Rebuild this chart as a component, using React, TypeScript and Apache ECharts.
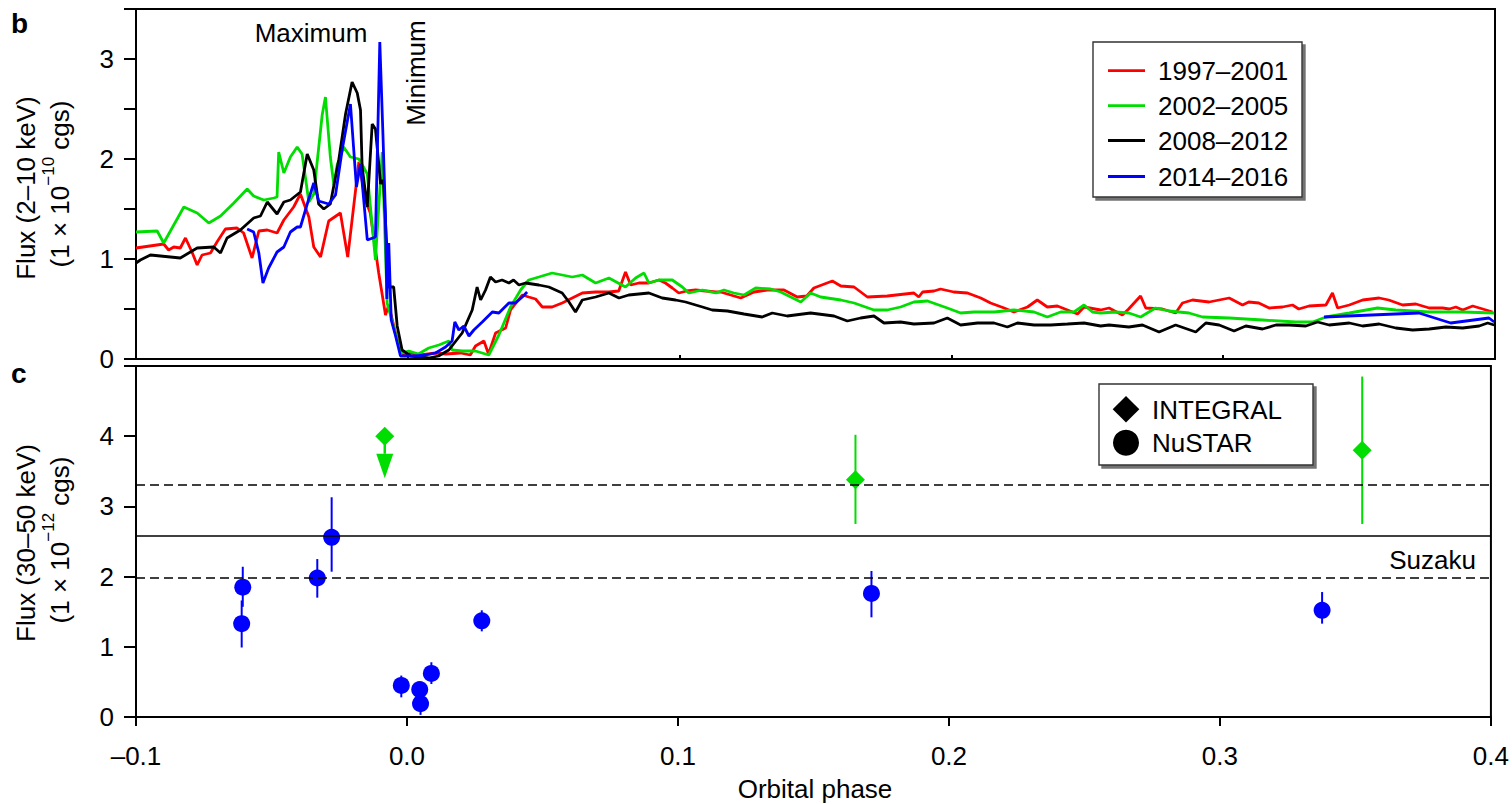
import React, { useEffect, useRef } from "react";
import * as echarts from "echarts";

// ---------- Panel b: 2–10 keV light curves (orbital phase, flux in 1e-10 cgs) ----------
const RED_1997_2001: [number, number][] = [
  [-0.1, 1.11], [-0.0898, 1.15], [-0.088, 1.09], [-0.0861, 1.12], [-0.0837, 1.11], [-0.0818, 1.21],
  [-0.0794, 1.07], [-0.0775, 0.94], [-0.0757, 1.04], [-0.0726, 1.06], [-0.0702, 1.17], [-0.0671, 1.3],
  [-0.0628, 1.31], [-0.0604, 1.26], [-0.0573, 1.01], [-0.0548, 1.28], [-0.0517, 1.29], [-0.0481, 1.26],
  [-0.0456, 1.39], [-0.042, 1.52], [-0.0395, 1.65], [-0.0364, 1.42], [-0.0346, 1.12], [-0.0321, 1.02],
  [-0.0291, 1.38], [-0.0248, 1.46], [-0.0221, 1.02], [-0.018, 1.97], [-0.0156, 1.59], [-0.0138, 1.46],
  [-0.0107, 0.86], [-0.0082, 0.44], [-0.007, 0.54], [-0.0039, 0.19], [-0.0015, 0.03], [0.001, 0.06],
  [0.0047, 0.04], [0.0102, 0.06], [0.0139, 0.05], [0.0194, 0.06], [0.023, 0.04], [0.0249, 0.13],
  [0.028, 0.18], [0.0297, 0.05], [0.0323, 0.26], [0.036, 0.31], [0.0378, 0.49], [0.0421, 0.64],
  [0.0445, 0.62], [0.047, 0.6], [0.0495, 0.52], [0.0531, 0.52], [0.0568, 0.56], [0.0605, 0.61],
  [0.0642, 0.66], [0.0691, 0.67], [0.074, 0.67], [0.0776, 0.68], [0.0801, 0.87], [0.082, 0.74],
  [0.085, 0.76], [0.0886, 0.76], [0.0924, 0.79], [0.0948, 0.76], [0.0973, 0.71], [0.0997, 0.66],
  [0.1026, 0.68], [0.1059, 0.69], [0.1133, 0.67], [0.1151, 0.67], [0.1225, 0.61], [0.1274, 0.67],
  [0.1323, 0.69], [0.1384, 0.69], [0.1433, 0.62], [0.1468, 0.63], [0.1494, 0.71], [0.1562, 0.78],
  [0.1593, 0.73], [0.1642, 0.72], [0.1691, 0.62], [0.1764, 0.63], [0.1862, 0.66], [0.188, 0.62],
  [0.1894, 0.67], [0.1936, 0.68], [0.196, 0.7], [0.2009, 0.67], [0.2059, 0.66], [0.2108, 0.61],
  [0.2144, 0.56], [0.2194, 0.51], [0.223, 0.47], [0.228, 0.52], [0.2316, 0.59], [0.2353, 0.52],
  [0.239, 0.53], [0.2427, 0.49], [0.2464, 0.45], [0.2488, 0.52], [0.2549, 0.49], [0.258, 0.51],
  [0.2629, 0.44], [0.2652, 0.5], [0.2696, 0.63], [0.2715, 0.51], [0.2776, 0.5], [0.2825, 0.46],
  [0.285, 0.56], [0.2887, 0.59], [0.2948, 0.57], [0.3022, 0.61], [0.3071, 0.54], [0.3094, 0.57],
  [0.3131, 0.56], [0.3169, 0.51], [0.3218, 0.52], [0.3255, 0.54], [0.3278, 0.5], [0.3316, 0.53],
  [0.3378, 0.54], [0.3402, 0.66], [0.3421, 0.51], [0.3464, 0.54], [0.3513, 0.59], [0.3574, 0.61],
  [0.3609, 0.59], [0.366, 0.54], [0.3709, 0.55], [0.3758, 0.51], [0.3807, 0.51], [0.3832, 0.5],
  [0.3856, 0.52], [0.3881, 0.49], [0.3918, 0.53], [0.3955, 0.5], [0.3991, 0.47],
];

const GREEN_2002_2005: [number, number][] = [
  [-0.1, 1.27], [-0.0922, 1.28], [-0.0898, 1.16], [-0.0824, 1.52], [-0.0775, 1.46], [-0.0732, 1.36],
  [-0.0689, 1.43], [-0.064, 1.56], [-0.0591, 1.7], [-0.0567, 1.63], [-0.053, 1.59], [-0.0493, 1.61],
  [-0.0481, 1.62], [-0.0475, 2.07], [-0.0456, 1.86], [-0.0432, 2.02], [-0.0407, 2.12], [-0.0389, 2.05],
  [-0.0364, 1.57], [-0.0346, 1.65], [-0.0315, 2.44], [-0.0303, 2.62], [-0.0285, 2.02], [-0.0272, 1.74],
  [-0.026, 1.94], [-0.0236, 2.12], [-0.0211, 2.02], [-0.018, 2.0], [-0.0149, 1.85], [-0.0119, 0.99],
  [-0.0113, 1.26], [-0.0094, 2.07], [-0.0076, 0.56], [-0.0039, 0.19], [-0.0021, 0.06], [0.0004, 0.08],
  [0.0039, 0.05], [0.0077, 0.11], [0.0114, 0.14], [0.0151, 0.18], [0.0163, 0.09], [0.02, 0.08],
  [0.0249, 0.08], [0.0298, 0.04], [0.0335, 0.24], [0.0378, 0.52], [0.0415, 0.69], [0.0445, 0.79],
  [0.0482, 0.82], [0.0531, 0.86], [0.0605, 0.82], [0.0642, 0.84], [0.0691, 0.76], [0.074, 0.81],
  [0.0801, 0.72], [0.0838, 0.81], [0.0869, 0.86], [0.0887, 0.76], [0.0924, 0.79], [0.0973, 0.79],
  [0.101, 0.72], [0.1034, 0.66], [0.1084, 0.69], [0.1133, 0.66], [0.1163, 0.69], [0.12, 0.66],
  [0.1237, 0.64], [0.128, 0.71], [0.1335, 0.7], [0.1372, 0.67], [0.1446, 0.57], [0.1482, 0.66],
  [0.1519, 0.62], [0.1593, 0.59], [0.1642, 0.56], [0.1715, 0.49], [0.1764, 0.49], [0.1813, 0.52],
  [0.1862, 0.57], [0.1912, 0.58], [0.1985, 0.51], [0.2034, 0.46], [0.2083, 0.47], [0.2157, 0.47],
  [0.223, 0.49], [0.2304, 0.47], [0.2353, 0.42], [0.2402, 0.47], [0.2451, 0.47], [0.2488, 0.54],
  [0.2519, 0.47], [0.2549, 0.46], [0.2604, 0.47], [0.2653, 0.46], [0.2696, 0.42], [0.2751, 0.51],
  [0.28, 0.48], [0.2874, 0.46], [0.2924, 0.42], [0.3022, 0.41], [0.3145, 0.39], [0.3267, 0.37],
  [0.3329, 0.37], [0.3378, 0.42], [0.3464, 0.46], [0.3568, 0.51], [0.3635, 0.49], [0.3758, 0.47],
  [0.3881, 0.47], [0.3997, 0.46],
];

const BLACK_2008_2012: [number, number][] = [
  [-0.1, 0.96], [-0.0984, 0.99], [-0.0947, 1.04], [-0.091, 1.03], [-0.0837, 1.01], [-0.0775, 1.11],
  [-0.0714, 1.12], [-0.0689, 1.06], [-0.0665, 1.21], [-0.0616, 1.29], [-0.0567, 1.41], [-0.0542, 1.43],
  [-0.0517, 1.57], [-0.0481, 1.45], [-0.0456, 1.57], [-0.0432, 1.59], [-0.0395, 1.67], [-0.037, 2.05],
  [-0.0346, 1.89], [-0.0328, 1.55], [-0.0309, 1.5], [-0.0285, 1.55], [-0.0254, 1.99], [-0.0229, 2.45],
  [-0.0205, 2.77], [-0.0186, 2.66], [-0.0174, 2.49], [-0.0168, 1.92], [-0.0149, 1.52], [-0.0131, 2.35],
  [-0.0119, 2.3], [-0.01, 1.75], [-0.0094, 1.79], [-0.0089, 1.75], [-0.007, 0.72], [-0.0052, 0.72],
  [-0.0039, 0.33], [-0.0021, 0.09], [0.001, 0.03], [0.0077, 0.01], [0.0113, 0.03], [0.0151, 0.09],
  [0.02, 0.26], [0.0237, 0.49], [0.0255, 0.72], [0.0268, 0.59], [0.0286, 0.69], [0.0304, 0.82],
  [0.0323, 0.77], [0.0347, 0.79], [0.0372, 0.76], [0.0389, 0.79], [0.0409, 0.74], [0.0433, 0.76],
  [0.0482, 0.74], [0.0519, 0.72], [0.0568, 0.66], [0.0593, 0.57], [0.0617, 0.47], [0.0642, 0.59],
  [0.0691, 0.62], [0.074, 0.66], [0.0777, 0.61], [0.0813, 0.64], [0.0887, 0.66], [0.0936, 0.61],
  [0.0985, 0.59], [0.1022, 0.57], [0.1084, 0.52], [0.112, 0.49], [0.1176, 0.48], [0.1237, 0.45],
  [0.1304, 0.42], [0.1341, 0.46], [0.1396, 0.43], [0.1482, 0.46], [0.1568, 0.43], [0.1617, 0.38],
  [0.1666, 0.41], [0.1715, 0.43], [0.1752, 0.36], [0.1813, 0.37], [0.1862, 0.35], [0.1936, 0.36],
  [0.1985, 0.41], [0.2034, 0.34], [0.2096, 0.36], [0.2157, 0.36], [0.2206, 0.32], [0.2243, 0.36],
  [0.2304, 0.34], [0.2365, 0.34], [0.2427, 0.35], [0.2488, 0.36], [0.2549, 0.33], [0.258, 0.34],
  [0.2653, 0.32], [0.2703, 0.34], [0.2764, 0.27], [0.2825, 0.34], [0.2899, 0.27], [0.2936, 0.36],
  [0.2985, 0.34], [0.304, 0.28], [0.3083, 0.33], [0.3145, 0.3], [0.3194, 0.34], [0.3243, 0.34],
  [0.3304, 0.33], [0.3347, 0.37], [0.339, 0.34], [0.3464, 0.36], [0.3513, 0.33], [0.3574, 0.35],
  [0.3635, 0.31], [0.3697, 0.29], [0.3758, 0.3], [0.3819, 0.32], [0.3881, 0.31], [0.3942, 0.33],
  [0.3973, 0.36], [0.3997, 0.34],
];

const BLUE_2014_2016_EARLY: [number, number][] = [
  [-0.0591, 1.3], [-0.0567, 1.27], [-0.0548, 1.06], [-0.0533, 0.76], [-0.0512, 0.91], [-0.0481, 1.07],
  [-0.0456, 1.12], [-0.0432, 1.27], [-0.0407, 1.32], [-0.0395, 1.32], [-0.037, 1.55], [-0.0346, 1.76],
  [-0.0328, 1.58], [-0.0291, 1.55], [-0.0266, 1.64], [-0.0241, 2.1], [-0.0211, 2.55], [-0.0189, 1.72],
  [-0.0174, 1.95], [-0.0149, 1.19], [-0.0119, 1.22], [-0.0103, 3.17], [-0.0092, 2.29], [-0.0082, 1.42],
  [-0.0077, 0.6], [-0.007, 1.16], [-0.0061, 0.39], [-0.0045, 0.23], [-0.0027, 0.03], [-0.0008, 0.03],
  [0.0028, 0.03], [0.0065, 0.04], [0.0102, 0.06], [0.0139, 0.12], [0.0163, 0.18], [0.0173, 0.37],
  [0.0188, 0.29], [0.0206, 0.33], [0.0225, 0.23], [0.0243, 0.29], [0.0274, 0.37], [0.0311, 0.47],
  [0.0335, 0.46], [0.0372, 0.56], [0.0396, 0.56], [0.0421, 0.62], [0.0439, 0.67],
];
const BLUE_2014_2016_LATE: [number, number][] = [
  [0.3371, 0.42], [0.372, 0.46], [0.3837, 0.36], [0.3978, 0.41], [0.3997, 0.37],
];

const PERIOD_NAMES = ["1997–2001", "2002–2005", "2008–2012", "2014–2016"];
const PERIOD_COLORS = ["#ff0000", "#00dd00", "#000000", "#0000ff"];

// ---------- Panel c: 30–50 keV fluxes (phase, flux, low, high) in 1e-12 cgs ----------
const NUSTAR: [number, number, number, number][] = [
  [-0.061, 1.33, 0.99, 1.66],
  [-0.0606, 1.85, 1.57, 2.14],
  [-0.0331, 1.98, 1.7, 2.25],
  [-0.0278, 2.56, 2.07, 3.13],
  [-0.0021, 0.45, 0.28, 0.59],
  [0.0047, 0.39, 0.27, 0.5],
  [0.005, 0.19, 0.03, 0.3],
  [0.009, 0.62, 0.47, 0.78],
  [0.0276, 1.37, 1.22, 1.52],
  [0.1714, 1.76, 1.42, 2.08],
  [0.3377, 1.52, 1.33, 1.78],
];
const INTEGRAL: [number, number, number, number][] = [
  [0.1655, 3.38, 2.75, 4.02],
  [0.3525, 3.8, 2.75, 4.85],
];
// upper limit: phase, value, arrow-head base, arrow tip
const INTEGRAL_UPPER_LIMIT: [number, number, number, number][] = [[-0.0082, 4.0, 3.75, 3.4]];
const REFERENCE_LEVELS = [
  { value: 3.31, dashed: true },
  { value: 2.58, dashed: false },
  { value: 1.99, dashed: true },
];

const X_MIN = -0.1;
const X_MAX = 0.4;
const X_STEP = 0.1;

const FONT = "'Liberation Sans', Arial, Helvetica, sans-serif";
const BLUE = "#0000ff";
const GREEN = "#00dd00";

export default function App() {
  const ref = useRef<HTMLDivElement>(null);

  useEffect(() => {
    if (!ref.current) return;
    const chart = echarts.init(ref.current, undefined, { renderer: "svg" });

    const xFmt = (v: number) => (v < -1e-9 ? "–" + Math.abs(v).toFixed(1) : Math.abs(v).toFixed(1));
    const axisLine = { lineStyle: { color: "#000", width: 2 } };
    const tickStyle = { color: "#000", width: 2 };
    const labelStyle = { color: "#000", fontSize: 26, fontFamily: FONT };

    const errorBarSeries = (name: string, data: number[][], color: string) => ({
      type: "custom",
      name,
      xAxisIndex: 1,
      yAxisIndex: 1,
      data: data.map((d) => [d[0], d[2], d[3]]),
      encode: { x: 0, y: [1, 2] },
      renderItem: (params: any, api: any) => {
        const a = api.coord([api.value(0), api.value(1)]);
        const b = api.coord([api.value(0), api.value(2)]);
        return {
          type: "line",
          shape: { x1: a[0], y1: a[1], x2: b[0], y2: b[1] },
          style: { stroke: color, lineWidth: 2 },
        };
      },
      z: 3,
    });

    const lineSeries = (name: string, data: [number, number][], color: string) => ({
      type: "line",
      name,
      xAxisIndex: 0,
      yAxisIndex: 0,
      data,
      showSymbol: false,
      symbol: "none",
      lineStyle: { color, width: 2.8 },
      itemStyle: { color },
      z: 2,
    });

    const legendTop = 42;
    const legendRows = [70.7, 105.7, 140.5, 176.5];

    chart.setOption({
      animation: false,
      backgroundColor: "#fff",
      grid: [
        { left: 136, top: 9, width: 1359, height: 350, show: true, borderColor: "#000", borderWidth: 2, backgroundColor: "transparent" },
        { left: 136, top: 366, width: 1359, height: 351, show: true, borderColor: "#000", borderWidth: 2, backgroundColor: "transparent" },
      ],
      xAxis: [
        {
          gridIndex: 0, type: "value", min: X_MIN, max: X_MAX, interval: X_STEP,
          axisLine: { ...axisLine, onZero: false },
          axisTick: { inside: true, length: 4, lineStyle: tickStyle },
          axisLabel: { show: false },
          splitLine: { show: false },
        },
        {
          gridIndex: 1, type: "value", min: X_MIN, max: X_MAX, interval: X_STEP,
          axisLine: { ...axisLine, onZero: false },
          axisTick: { length: 9, lineStyle: tickStyle },
          axisLabel: { ...labelStyle, margin: 26, formatter: xFmt },
          splitLine: { show: false },
        },
      ],
      yAxis: [
        {
          gridIndex: 0, type: "value", min: 0, max: 3.5, interval: 0.5,
          axisLine: { ...axisLine, onZero: false },
          axisTick: { length: 12, lineStyle: tickStyle },
          axisLabel: {
            ...labelStyle, margin: 22,
            formatter: (v: number) => (Math.abs(v - Math.round(v)) < 1e-6 ? String(Math.round(v)) : ""),
          },
          splitLine: { show: false },
        },
        {
          gridIndex: 1, type: "value", min: 0, max: 5, interval: 1,
          axisLine: { ...axisLine, onZero: false },
          axisTick: { length: 12, lineStyle: tickStyle },
          axisLabel: { ...labelStyle, margin: 22, formatter: (v: number) => (v >= 5 ? "" : String(v)) },
          splitLine: { show: false },
        },
      ],
      series: [
        lineSeries(PERIOD_NAMES[0], RED_1997_2001, PERIOD_COLORS[0]),
        lineSeries(PERIOD_NAMES[1], GREEN_2002_2005, PERIOD_COLORS[1]),
        lineSeries(PERIOD_NAMES[2], BLACK_2008_2012, PERIOD_COLORS[2]),
        lineSeries(PERIOD_NAMES[3], BLUE_2014_2016_EARLY, PERIOD_COLORS[3]),
        lineSeries(PERIOD_NAMES[3], BLUE_2014_2016_LATE, PERIOD_COLORS[3]),
        {
          type: "line",
          name: "reference",
          xAxisIndex: 1,
          yAxisIndex: 1,
          data: [],
          markLine: {
            silent: true,
            symbol: ["none", "none"],
            label: { show: false },
            data: REFERENCE_LEVELS.map((r) => ({
              yAxis: r.value,
              lineStyle: { color: "#000", width: 1.6, type: r.dashed ? [9, 5] : "solid" },
            })),
          },
        },
        errorBarSeries("NuSTAR error", NUSTAR, BLUE),
        errorBarSeries("INTEGRAL error", INTEGRAL, GREEN),
        {
          type: "custom",
          name: "INTEGRAL upper limit",
          xAxisIndex: 1,
          yAxisIndex: 1,
          data: INTEGRAL_UPPER_LIMIT,
          encode: { x: 0, y: [1, 3] },
          renderItem: (params: any, api: any) => {
            const top = api.coord([api.value(0), api.value(1)]);
            const base = api.coord([api.value(0), api.value(2)]);
            const tip = api.coord([api.value(0), api.value(3)]);
            return {
              type: "group",
              children: [
                { type: "line", shape: { x1: top[0], y1: top[1], x2: base[0], y2: base[1] }, style: { stroke: GREEN, lineWidth: 2.5 } },
                { type: "polygon", shape: { points: [[base[0] - 8.5, base[1]], [base[0] + 8.5, base[1]], [tip[0], tip[1]]] }, style: { fill: GREEN } },
              ],
            };
          },
          z: 3,
        },
        {
          type: "scatter",
          name: "NuSTAR",
          xAxisIndex: 1,
          yAxisIndex: 1,
          data: NUSTAR.map((d) => [d[0], d[1]]),
          symbol: "circle",
          symbolSize: 17,
          itemStyle: { color: BLUE, opacity: 1 },
          z: 4,
        },
        {
          type: "scatter",
          name: "INTEGRAL",
          xAxisIndex: 1,
          yAxisIndex: 1,
          data: [...INTEGRAL.map((d) => [d[0], d[1]]), ...INTEGRAL_UPPER_LIMIT.map((d) => [d[0], d[1]])],
          symbol: "diamond",
          symbolSize: 19,
          itemStyle: { color: GREEN, opacity: 1 },
          z: 4,
        },
      ],
      graphic: [
        // panel letters
        { type: "text", x: 11, y: 23, style: { text: "b", font: `bold 28px ${FONT}`, fill: "#000", verticalAlign: "middle" } },
        { type: "text", x: 11, y: 373, style: { text: "c", font: `bold 28px ${FONT}`, fill: "#000", verticalAlign: "middle" } },
        // y-axis titles
        { type: "text", x: 26, y: 188, rotation: Math.PI / 2, style: { text: "Flux (2–10 keV)", font: `26px ${FONT}`, fill: "#000", align: "center", verticalAlign: "middle" } },
        {
          type: "text", x: 60, y: 184, rotation: Math.PI / 2,
          style: {
            text: "(1 × 10{sup|−10} cgs)", font: `26px ${FONT}`, fill: "#000", align: "center", verticalAlign: "middle",
            rich: { sup: { fontSize: 17, fontFamily: FONT, fill: "#000", padding: [0, 0, 24, 0] } },
          },
        },
        { type: "text", x: 26, y: 543, rotation: Math.PI / 2, style: { text: "Flux (30–50 keV)", font: `26px ${FONT}`, fill: "#000", align: "center", verticalAlign: "middle" } },
        {
          type: "text", x: 60, y: 540, rotation: Math.PI / 2,
          style: {
            text: "(1 × 10{sup|−12} cgs)", font: `26px ${FONT}`, fill: "#000", align: "center", verticalAlign: "middle",
            rich: { sup: { fontSize: 17, fontFamily: FONT, fill: "#000", padding: [0, 0, 24, 0] } },
          },
        },
        // x-axis title
        { type: "text", x: 815, y: 789, style: { text: "Orbital phase", font: `26px ${FONT}`, fill: "#000", align: "center", verticalAlign: "middle" } },
        // annotations
        { type: "text", x: 311, y: 33, style: { text: "Maximum", font: `26px ${FONT}`, fill: "#000", align: "center", verticalAlign: "middle" } },
        { type: "text", x: 416, y: 73, rotation: Math.PI / 2, style: { text: "Minimum", font: `26px ${FONT}`, fill: "#000", align: "center", verticalAlign: "middle" } },
        { type: "text", x: 1476, y: 560, style: { text: "Suzaku", font: `26px ${FONT}`, fill: "#000", align: "right", verticalAlign: "middle" } },
        // legend b
        {
          type: "rect", shape: { x: 1093, y: legendTop, width: 209, height: 155 },
          style: { fill: "#fff", stroke: "#333", lineWidth: 1.4, shadowColor: "rgba(0,0,0,0.55)", shadowOffsetX: 3, shadowOffsetY: 3, shadowBlur: 1 },
          z: 10,
        },
        ...PERIOD_NAMES.flatMap((name, i) => [
          { type: "line", shape: { x1: 1108, y1: legendRows[i], x2: 1145, y2: legendRows[i] }, style: { stroke: PERIOD_COLORS[i], lineWidth: 2.8 }, z: 11 },
          { type: "text", x: 1158, y: legendRows[i], style: { text: name, font: `26px ${FONT}`, fill: "#000", verticalAlign: "middle" }, z: 11 },
        ]),
        // legend c
        {
          type: "rect", shape: { x: 1099, y: 384, width: 214, height: 81 },
          style: { fill: "#fff", stroke: "#333", lineWidth: 1.4, shadowColor: "rgba(0,0,0,0.55)", shadowOffsetX: 3, shadowOffsetY: 3, shadowBlur: 1 },
          z: 10,
        },
        { type: "polygon", shape: { points: [[1126, 396], [1139.3, 409.3], [1126, 422.6], [1112.7, 409.3]] }, style: { fill: "#000" }, z: 11 },
        { type: "circle", shape: { cx: 1126, cy: 442.7, r: 13 }, style: { fill: "#000" }, z: 11 },
        { type: "text", x: 1152, y: 409.5, style: { text: "INTEGRAL", font: `26px ${FONT}`, fill: "#000", verticalAlign: "middle" }, z: 11 },
        { type: "text", x: 1152, y: 443, style: { text: "NuSTAR", font: `26px ${FONT}`, fill: "#000", verticalAlign: "middle" }, z: 11 },
      ],
    });

    return () => chart.dispose();
  }, []);

  return <div ref={ref} style={{ position: "fixed", left: 0, top: 0, width: 1512, height: 804, background: "#fff" }} />;
}
